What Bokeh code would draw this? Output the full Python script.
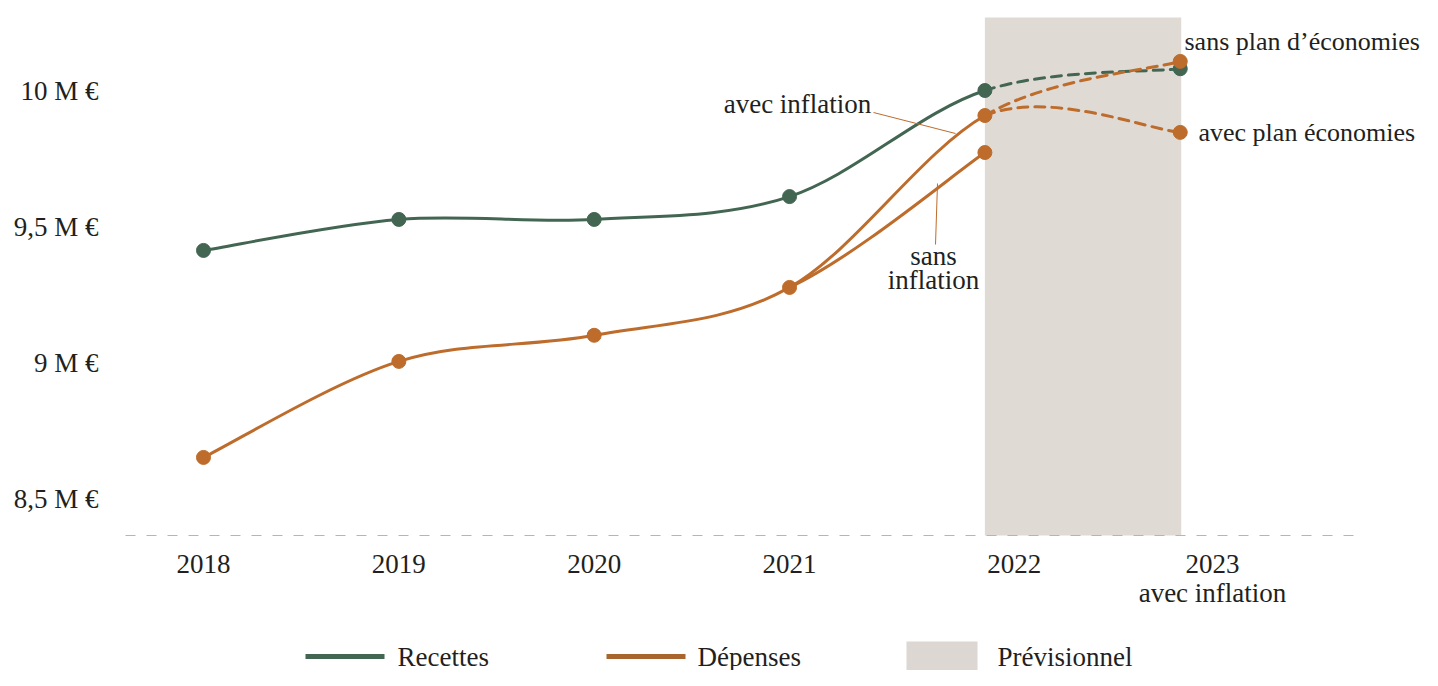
from bokeh.plotting import figure
from bokeh.models import Range1d, ColumnDataSource
from bokeh.core.properties import value
from bokeh.embed import file_html
from bokeh.resources import INLINE

# ---------------- data ----------------
years = ["2018", "2019", "2020", "2021", "2022", "2023"]
recettes = [9.412, 9.526, 9.526, 9.610, 10.000, 10.080]
depenses_avec_inflation = [8.651, 9.004, 9.100, 9.276, 9.908]
depenses_sans_inflation_2022 = 9.772
depenses_2023_sans_plan = 10.107
depenses_2023_avec_plan = 9.846
y_ticks = [8.5, 9.0, 9.5, 10.0]
y_tick_labels = ["8,5 M €", "9 M €", "9,5 M €", "10 M €"]
legend_labels = ["Recettes", "Dépenses", "Prévisionnel"]

# ---------------- style ----------------
GREEN = "#436652"
ORANGE = "#bd6c2c"
ORANGE_LEG = "#a8652d"
BAND = "#e0dad5"
BAND_LEG = "#dcd7d3"
TEXT = "#231f20"
FONT = "Liberation Serif"
FS = "27px"

W, H = 1422, 670
X0_PX, DX_PX = 203.0, 195.35     # px of first year, px per year
Y_REF_PX, Y_REF_V, PX_PER_M = 90.0, 10.0, 272.0


def px_to_x(px):
    return (px - X0_PX) / DX_PX


def py_to_y(py):
    return Y_REF_V - (py - Y_REF_PX) / PX_PER_M


p = figure(width=W, height=H,
           x_range=Range1d(px_to_x(0), px_to_x(W)),
           y_range=Range1d(py_to_y(H), py_to_y(0)),
           output_backend="svg", toolbar_location=None, min_border=0,
           x_axis_location=None, y_axis_location=None)
p.grid.visible = False
p.outline_line_color = None
p.background_fill_color = "white"

# forecast band (between 2022 and 2023 points)
i22, i23 = years.index("2022"), years.index("2023")
p.quad(left=[i22], right=[i23 + 0.005], bottom=[py_to_y(535)], top=[py_to_y(17)],
       fill_color=BAND, line_color=None)

# baseline dashed
p.segment(x0=[px_to_x(125)], x1=[px_to_x(1357)], y0=[py_to_y(535)], y1=[py_to_y(535)],
          line_color="#b5b5b5", line_width=1.2, line_dash="10 11")


def cr_segments(xs, ys):
    n = len(xs)
    segs = []
    for i in range(n - 1):
        a = max(i - 1, 0)
        b = min(i + 2, n - 1)
        segs.append(dict(
            x0=xs[i], y0=ys[i], x1=xs[i + 1], y1=ys[i + 1],
            cx0=xs[i] + (xs[i + 1] - xs[a]) / 6.0,
            cy0=ys[i] + (ys[i + 1] - ys[a]) / 6.0,
            cx1=xs[i + 1] - (xs[b] - xs[i]) / 6.0,
            cy1=ys[i + 1] - (ys[b] - ys[i]) / 6.0))
    return segs


def draw(segs, color, dash="solid", width=3):
    src = ColumnDataSource({k: [s[k] for s in segs] for k in segs[0]})
    p.bezier(x0="x0", y0="y0", x1="x1", y1="y1", cx0="cx0", cy0="cy0",
             cx1="cx1", cy1="cy1", source=src, line_color=color,
             line_width=width, line_dash=dash, line_cap="round")


xs_all = list(range(len(years)))

# Recettes
rs = cr_segments(xs_all, recettes)
draw(rs[:4], GREEN)
draw(rs[4:], GREEN, dash="10 7")
p.scatter(xs_all, recettes, size=14, color=GREEN)

# Dépenses
sans_plan = depenses_avec_inflation + [depenses_2023_sans_plan]
avec_plan = depenses_avec_inflation + [depenses_2023_avec_plan]
sans_infl = depenses_avec_inflation[:4] + [depenses_sans_inflation_2022]
sp = cr_segments(xs_all, sans_plan)
ap = cr_segments(xs_all, avec_plan)
si = cr_segments(xs_all[:5], sans_infl)
draw(sp[:4], ORANGE)
draw(si[3:4], ORANGE)
draw(sp[4:], ORANGE, dash="10 7")
draw(ap[4:], ORANGE, dash="10 7")
p.scatter(xs_all[:5], depenses_avec_inflation, size=14, color=ORANGE)
p.scatter([i22, i23, i23], [depenses_sans_inflation_2022, depenses_2023_sans_plan,
                            depenses_2023_avec_plan], size=14, color=ORANGE)

# leader lines
p.segment(x0=[px_to_x(873)], y0=[py_to_y(112)], x1=[px_to_x(955)], y1=[py_to_y(133)],
          line_color=ORANGE, line_width=1)
p.segment(x0=[px_to_x(937)], y0=[py_to_y(183)], x1=[px_to_x(935)], y1=[py_to_y(244)],
          line_color=ORANGE, line_width=1)


def txt(x, y, s, align="center", size=FS):
    p.text(x=x, y=y, text=s, text_font=value(FONT), text_font_size=size,
           text_color=TEXT, text_align=align, text_baseline="middle")


# y tick labels
txt([px_to_x(98)] * len(y_ticks), y_ticks, y_tick_labels, align="right")

# x tick labels
label_offsets = [0, 0, 0, 0, 0.15, 0.165]
txt([i + o for i, o in zip(xs_all, label_offsets)], [py_to_y(563)] * len(years), years)
txt([i23 + 0.165], [py_to_y(592)], ["avec inflation"])

# annotations
txt([px_to_x(797)], [py_to_y(103)], ["avec inflation"])
txt([px_to_x(933)], [py_to_y(255)], ["sans"])
txt([px_to_x(933)], [py_to_y(279)], ["inflation"])
txt([px_to_x(1184)], [py_to_y(41)], ["sans plan d’économies"], align="left", size="26px")
txt([px_to_x(1198)], [py_to_y(132)], ["avec plan économies"], align="left", size="26px")

# legend
ly = py_to_y(656)
p.segment(x0=[px_to_x(305)], x1=[px_to_x(384)], y0=[ly], y1=[ly], line_color=GREEN, line_width=5)
p.segment(x0=[px_to_x(606)], x1=[px_to_x(685)], y0=[ly], y1=[ly], line_color=ORANGE_LEG, line_width=5)
p.quad(left=[px_to_x(906)], right=[px_to_x(977)], bottom=[py_to_y(H + 5)], top=[py_to_y(641)],
       fill_color=BAND_LEG, line_color=None)
txt([px_to_x(397), px_to_x(697), px_to_x(997)], [ly] * 3, legend_labels, align="left")

open("out.html", "w").write(file_html(p, INLINE))
